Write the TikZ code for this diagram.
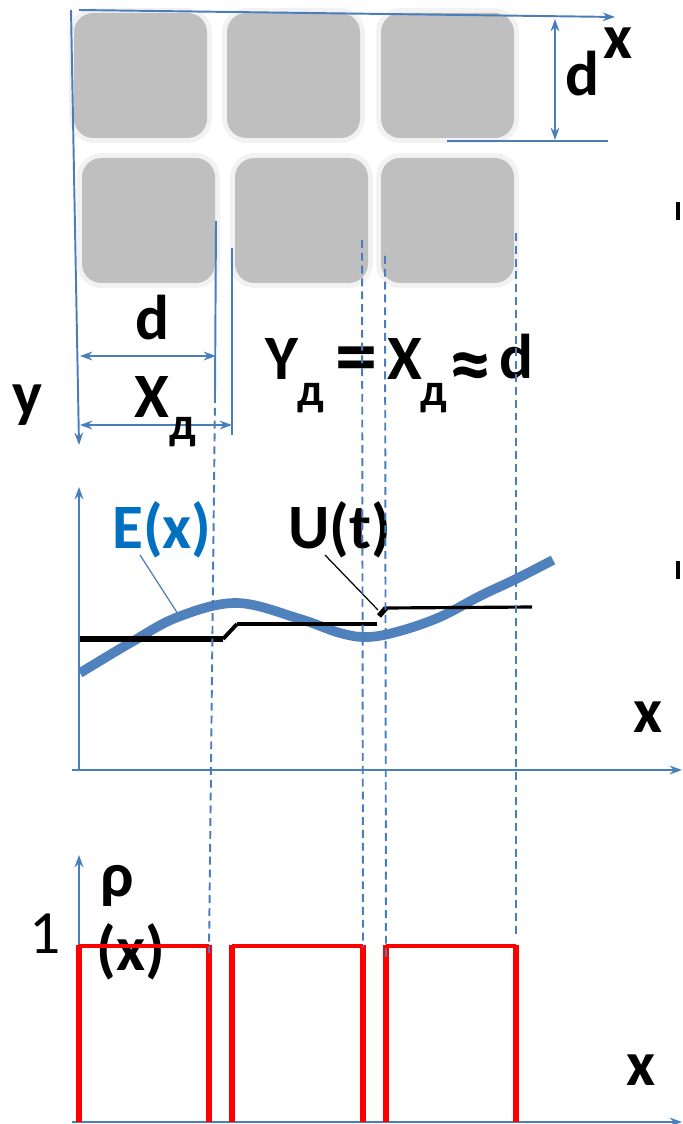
\documentclass[tikz,border=0pt]{standalone}
\usepackage{fontspec}
\setmainfont{Carlito}
\usetikzlibrary{arrows.meta}
\definecolor{axblue}{HTML}{4A7EBB}
\definecolor{curveblue}{HTML}{4F81BD}
\definecolor{lblblue}{HTML}{0070C0}
\definecolor{blockgray}{HTML}{BFBFBF}
\definecolor{ringgray}{HTML}{F2F2F2}
\definecolor{pulsered}{HTML}{FF0000}
\begin{document}
\begin{tikzpicture}[x=0.02cm,y=-0.02cm,
  axis/.style={draw=axblue, line width=1.1pt, -{Stealth[length=7pt,width=5pt]}},
  dimarrow/.style={draw=axblue, line width=1.1pt, {Stealth[length=7pt,width=5pt]}-{Stealth[length=7pt,width=5pt]}},
  guide/.style={draw=axblue, line width=1.1pt},
  dashguide/.style={draw=axblue, line width=1.1pt, dash pattern=on 4.5pt off 2.8pt},
  lbl/.style={inner sep=0pt, font=\fontsize{36}{42}\selectfont\bfseries},
  biglbl/.style={inner sep=0pt, font=\fontsize{48}{52}\selectfont\bfseries},
  plainlbl/.style={inner sep=0pt, font=\fontsize{35}{42}\selectfont},
  sublbl/.style={inner sep=0pt, font=\fontsize{26}{30}\selectfont\bfseries},
  leader/.style={line width=0.7pt},
  ecurve/.style={draw=curveblue, line width=5.5pt},
  uthick/.style={draw=black, line width=3pt},
  uthin/.style={draw=black, line width=1.8pt},
  pulsetop/.style={draw=pulsered, line width=1.9pt},
  pulseside/.style={draw=pulsered, line width=3.4pt}
]
\useasboundingbox (0,0) rectangle (682,1124);

% grains
\foreach \xa/\ya in {74/13,227/13,381/13,82/158,235/158,381/158}{
  \fill[ringgray, rounded corners=14pt] (\xa-5,\ya-5) rectangle (\xa+138,\ya+130);
  \fill[blockgray, rounded corners=11pt] (\xa,\ya) rectangle (\xa+133,\ya+125);
}

% top axes
\coordinate (xo) at (79,10);
\coordinate (xe) at (615,17);
\coordinate (yo) at (71,10);
\coordinate (ye) at (79,445);
\draw[axis] (xo) -- (xe);
\draw[axis] (yo) -- (ye);
\node[lbl] (xlab) at (618,43) {x};
\node[lbl] (ylab) at (27,405) {y};

% vertical dimension d
\coordinate (dv1) at (555,19);
\coordinate (dv2) at (555,140);
\coordinate (dh1) at (447,141);
\coordinate (dh2) at (608,141);
\draw[guide] (dh1) -- (dh2);
\draw[dimarrow] (dv1) -- (dv2);
\node[lbl] (dtop) at (582,74) {d};

% horizontal dimensions
\coordinate (g1a) at (216,221);
\coordinate (g1b) at (215,395);
\coordinate (g1c) at (209,953);
\coordinate (g2a) at (232,248);
\coordinate (g2b) at (232,435);
\draw[guide] (g1a) -- (g1b);
\draw[guide] (g2a) -- (g2b);
\coordinate (da) at (80,356);
\coordinate (db) at (216,356);
\draw[dimarrow] (da) -- (db);
\coordinate (xa) at (80,425);
\coordinate (xb) at (232,425);
\draw[dimarrow] (xa) -- (xb);
\node[lbl] (dleft) at (152,318) {d};
\node[lbl] (Xleft) at (152,397) {X};
\node[sublbl] (Xsub) at (183,432) {д};

% formula
\node[lbl] (Yf) at (282,359) {Y};
\node[sublbl] (Yfs) at (311,398) {д};
\node[biglbl] (eqf) at (356,366) {=};
\node[lbl] (Xf) at (405,359) {X};
\node[sublbl] (Xfs) at (434,398) {д};
\node[biglbl] (apf) at (470,373) {≈};
\node[lbl] (df) at (516,357) {d};

% E(x) plot axes
\coordinate (eo) at (79,770);
\coordinate (ey) at (79,487);
\coordinate (exs) at (72,770);
\coordinate (exe) at (682,770);
\draw[axis] (eo) -- (ey);
\draw[axis] (exs) -- (exe);
\node[lbl] (xmid) at (648,717) {x};

% E curve
\draw[ecurve] plot[smooth, tension=0.6] coordinates {(80,673) (130,643) (178,617) (237,603) (300,619) (340,633) (368,637) (400,631) (440,617) (480,596) (516,579) (553,560)};

% U(t) staircase
\coordinate (u1) at (80,639);
\coordinate (u2) at (223,639);
\coordinate (u3) at (237,624);
\coordinate (u4) at (377,624);
\coordinate (u5) at (379,616);
\coordinate (u6) at (386,608);
\coordinate (u7) at (532,607);
\draw[uthick] (u1) -- (u2);
\draw[line width=2.2pt] (u2) -- (u3);
\draw[uthin] (u3) -- (u4);
\draw[uthick] (u5) -- (u6);
\draw[uthin] (u6) -- (u7);

% labels and leaders
\node[lbl, text=lblblue] (Elab) at (162,530) {E(x)};
\node[lbl] (Ulab) at (340,530) {U(t)};
\coordinate (el1) at (140,555);
\coordinate (el2) at (178,614);
\draw[leader, draw=axblue] (el1) -- (el2);
\coordinate (ul1) at (325,555);
\coordinate (ul2) at (378,610);
\draw[leader] (ul1) -- (ul2);

% rho plot axes
\coordinate (ro) at (79,1122);
\coordinate (ry) at (79,855);
\coordinate (rxs) at (72,1122);
\coordinate (rxe) at (682,1122);
\draw[axis] (ro) -- (ry);
\draw[axis] (rxs) -- (rxe);
\node[lbl] (xbot) at (641,1070) {x};
\node[plainlbl] (one) at (45,934) {1};
\node[lbl] (rho) at (117,886) {ρ};
\node[lbl] (rhox) at (131,952) {(x)};

% pulses
\foreach \pa/\pb in {79/209,232/363,386/516}{
  \draw[pulsetop] (\pa,946) -- (\pb,946);
  \draw[pulseside] (\pa,1122) -- (\pa,945);
  \draw[pulseside] (\pb,1122) -- (\pb,945);
}

% dashed guides
\draw[dashguide] (g1b) -- (g1c);
\coordinate (h1a) at (362,240);
\coordinate (h1b) at (363,947);
\coordinate (h2a) at (385,256);
\coordinate (h2b) at (386,960);
\coordinate (h3a) at (516,233);
\coordinate (h3b) at (516,938);
\draw[dashguide] (h1a) -- (h1b);
\draw[dashguide] (h2a) -- (h2b);
\draw[dashguide] (h3a) -- (h3b);

% clipped marks at right edge
\fill (676,202) rectangle (680,220);
\fill (676,561) rectangle (680,579);
\end{tikzpicture}
\end{document}
